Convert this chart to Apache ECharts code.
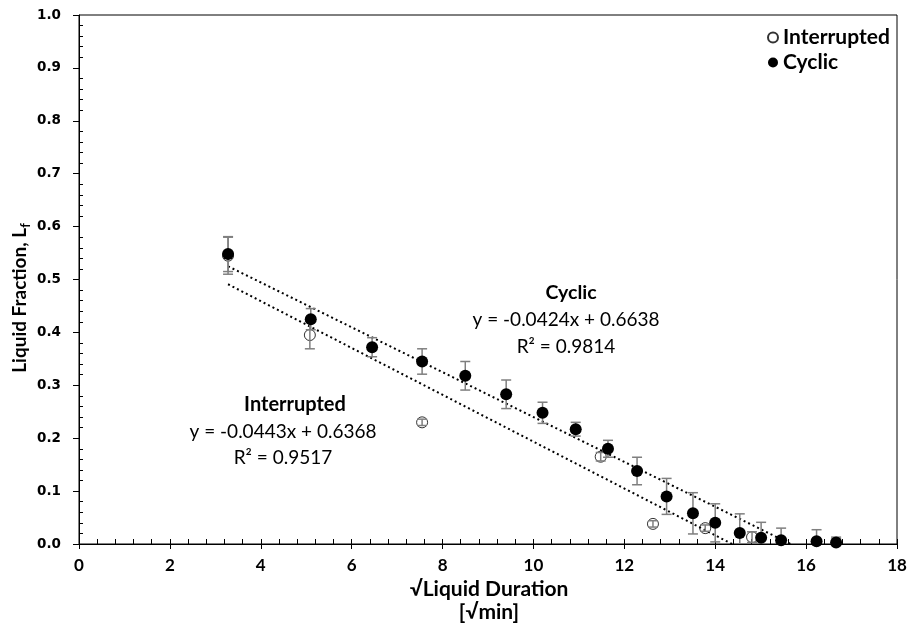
<!DOCTYPE html>
<html>
<head>
<meta charset="utf-8">
<script src="https://cdn.jsdelivr.net/npm/echarts@6/dist/echarts.min.js"></script>
<style>
  html, body { margin: 0; padding: 0; background: #fff; }
  #chart { width: 910px; height: 634px; }
</style>
</head>
<body>
<div id="chart"></div>
<script>
// values
const cyclicX = [3.28, 5.10, 6.45, 7.55, 8.50, 9.40, 10.20, 10.93, 11.64, 12.28, 12.93, 13.51, 14.00, 14.54, 15.01, 15.45, 16.23, 16.66];
const cyclicY = [0.548, 0.425, 0.372, 0.345, 0.318, 0.283, 0.248, 0.217, 0.180, 0.138, 0.090, 0.058, 0.040, 0.021, 0.012, 0.007, 0.005, 0.003];
const cyclicErr = [0.033, 0.020, 0.018, 0.024, 0.027, 0.027, 0.020, 0.013, 0.016, 0.026, 0.034, 0.039, 0.036, 0.036, 0.029, 0.023, 0.022, 0.010];

const interruptedX = [3.28, 5.08, 7.55, 11.48, 12.63, 13.78, 14.81];
const interruptedY = [0.545, 0.395, 0.230, 0.165, 0.038, 0.030, 0.013];
const interruptedErr = [0.035, 0.026, 0.006, 0.008, 0.006, 0.006, 0.010];

const cyclicFit = [[3.28, 0.525], [15.66, 0]];
const interruptedFit = [[3.28, 0.491], [14.37, 0]];

const xTicks = { min: 0, max: 18, step: 2 };
const yTicks = { min: 0, max: 1, step: 0.1 };

const pairs = (xs, ys) => xs.map((x, i) => [x, ys[i]]);
const bars = (xs, ys, es) => xs.map((x, i) => [x, ys[i] - es[i], ys[i] + es[i]]);

const errorBarItem = (params, api) => {
  const x = api.value(0);
  const lo = api.coord([x, api.value(1)]);
  const hi = api.coord([x, api.value(2)]);
  const half = 5;
  const style = { stroke: '#7f7f7f', lineWidth: 1.5 };
  return {
    type: 'group',
    children: [
      { type: 'line', shape: { x1: lo[0], y1: lo[1], x2: hi[0], y2: hi[1] }, style },
      { type: 'line', shape: { x1: lo[0] - half, y1: lo[1], x2: lo[0] + half, y2: lo[1] }, style },
      { type: 'line', shape: { x1: hi[0] - half, y1: hi[1], x2: hi[0] + half, y2: hi[1] }, style }
    ]
  };
};

const annotation = (x, y, text, font) => ({
  type: 'text',
  x, y,
  style: {
    text,
    font,
    fill: '#000',
    textAlign: 'center',
    textVerticalAlign: 'middle'
  }
});

const baseX = {
  type: 'value',
  min: xTicks.min,
  max: xTicks.max,
  interval: xTicks.step,
  position: 'bottom',
  splitLine: { show: false }
};

const baseY = {
  type: 'value',
  min: yTicks.min,
  max: yTicks.max,
  interval: yTicks.step,
  position: 'left',
  splitLine: { show: false }
};

const chart = echarts.init(document.getElementById('chart'));

chart.setOption({
  animation: false,
  backgroundColor: '#fff',
  grid: { left: 79, right: 13, top: 15, bottom: 90, show: true, borderColor: '#000', borderWidth: 1 },
  xAxis: [
    Object.assign({}, baseX, {
      axisLine: { lineStyle: { color: '#000', width: 1 } },
      axisTick: { show: true, inside: false, length: 5, lineStyle: { color: '#000' } },
      minorTick: { show: false },
      axisLabel: { margin: 13, color: '#000', fontFamily: 'Lato', fontWeight: 'bold', fontSize: 17 }
    }),
    Object.assign({}, baseX, {
      axisLine: { show: false },
      axisTick: { show: true, inside: true, length: 5, lineStyle: { color: '#000' } },
      minorTick: { show: true, splitNumber: 5, length: 5, lineStyle: { color: '#000' } },
      axisLabel: { show: false }
    })
  ],
  yAxis: [
    Object.assign({}, baseY, {
      axisLine: { show: true, lineStyle: { color: '#000', width: 1 } },
      axisTick: { show: true, inside: false, length: 6, lineStyle: { color: '#000' } },
      minorTick: { show: false },
      axisLabel: {
        margin: 18, color: '#000', fontFamily: 'DejaVu Sans', fontWeight: 'bold', fontSize: 13.5,
        formatter: v => v.toFixed(1)
      }
    }),
    Object.assign({}, baseY, {
      axisLine: { show: false },
      axisTick: { show: false, inside: true },
      minorTick: { show: true, splitNumber: 5, length: 4, lineStyle: { color: '#000' } },
      axisLabel: { show: false }
    })
  ],
  legend: {
    data: ['Interrupted', 'Cyclic'],
    orient: 'vertical',
    left: 762,
    top: 22,
    itemWidth: 10,
    itemHeight: 10,
    itemGap: 4,
    icon: 'circle',
    textStyle: { fontFamily: 'Lato', fontWeight: 'bold', fontSize: 21, color: '#000' }
  },
  graphic: [
    annotation(295, 405, 'Interrupted', 'bold 20px Lato'),
    annotation(283, 432, 'y = -0.0443x + 0.6368', '19px Lato'),
    annotation(283, 458, 'R² = 0.9517', '19px Lato'),
    annotation(571, 293, 'Cyclic', 'bold 19.5px Lato'),
    annotation(566, 320, 'y = -0.0424x + 0.6638', '19px Lato'),
    annotation(566, 347, 'R² = 0.9814', '19px Lato'),
    annotation(489, 589, '√Liquid Duration', 'bold 21px Lato'),
    annotation(489, 612, '[√min]', 'bold 21px Lato'),
    {
      type: 'text', x: 20, y: 298, rotation: Math.PI / 2,
      style: {
        text: '{a|Liquid Fraction, L}{s|f}',
        fill: '#000',
        textAlign: 'center',
        textVerticalAlign: 'middle',
        rich: {
          a: { fontFamily: 'Lato', fontWeight: 'bold', fontSize: 19, lineHeight: 24, verticalAlign: 'middle' },
          s: { fontFamily: 'Lato', fontWeight: 'bold', fontSize: 13, lineHeight: 24, verticalAlign: 'bottom', padding: [7, 0, 0, 0] }
        }
      }
    }
  ],
  series: [
    {
      name: 'Cyclic fit',
      type: 'line',
      data: cyclicFit,
      showSymbol: false,
      silent: true,
      lineStyle: { color: '#000', width: 2, type: [2, 3] },
      z: 1
    },
    {
      name: 'Interrupted fit',
      type: 'line',
      data: interruptedFit,
      showSymbol: false,
      silent: true,
      lineStyle: { color: '#000', width: 2, type: [2, 3] },
      z: 1
    },
    {
      name: 'Interrupted',
      type: 'scatter',
      data: pairs(interruptedX, interruptedY),
      symbol: 'circle',
      symbolSize: 11,
      itemStyle: { color: 'rgba(255,255,255,0)', borderColor: '#000', borderWidth: 1 },
      z: 2
    },
    {
      name: 'Interrupted err',
      type: 'custom',
      data: bars(interruptedX, interruptedY, interruptedErr),
      renderItem: errorBarItem,
      clip: true,
      silent: true,
      z: 3
    },
    {
      name: 'Cyclic err',
      type: 'custom',
      data: bars(cyclicX, cyclicY, cyclicErr),
      renderItem: errorBarItem,
      clip: true,
      silent: true,
      z: 4
    },
    {
      name: 'Cyclic',
      type: 'scatter',
      data: pairs(cyclicX, cyclicY),
      symbol: 'circle',
      symbolSize: 12,
      itemStyle: { color: '#000', opacity: 1 },
      emphasis: { disabled: true },
      z: 5
    }
  ]
});
</script>
</body>
</html>
